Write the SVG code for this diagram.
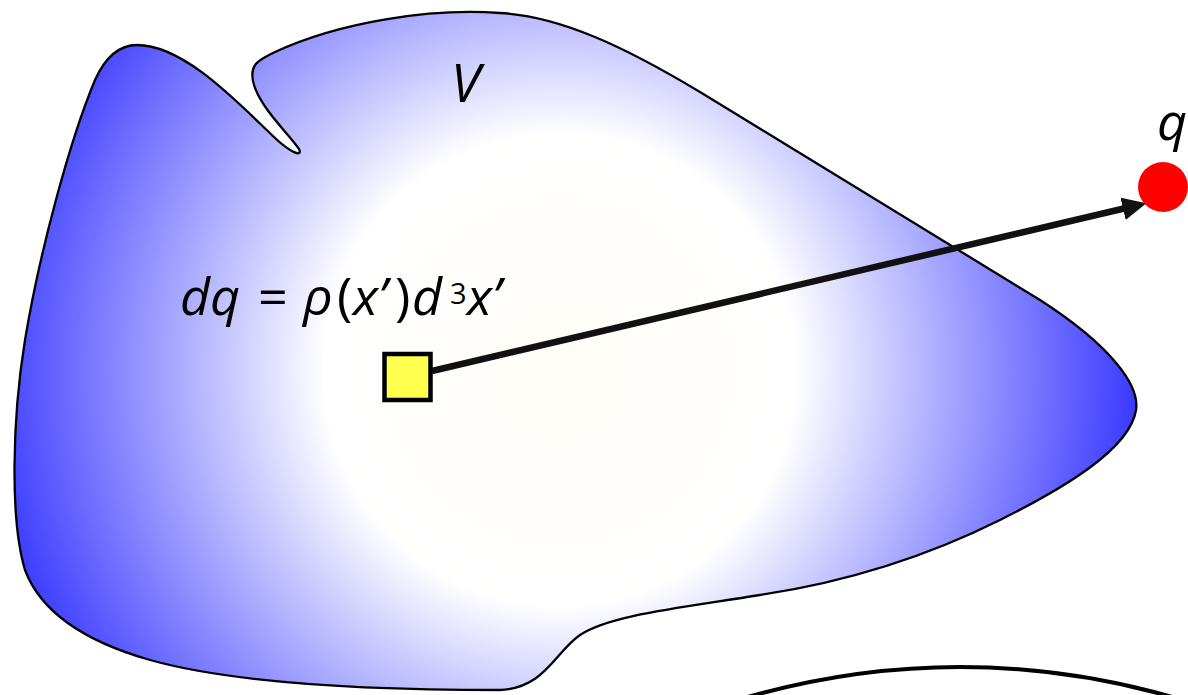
<svg xmlns="http://www.w3.org/2000/svg" width="1188" height="695" viewBox="0 0 1188 695">
<style>
.lbl{font-family:"Open Sans","Liberation Sans",sans-serif;fill:#000}
.it{font-style:italic}
.outline{fill:url(#fillGrad);stroke:#000;stroke-width:2.3}
.conn{stroke:#111;stroke-width:6.5;fill:none}
</style>
<defs>
<radialGradient id="fillGrad" gradientUnits="userSpaceOnUse" cx="560" cy="370" r="590">
<stop offset="0" stop-color="#fffdf6"/>
<stop offset="0.4" stop-color="#ffffff"/>
<stop offset="1" stop-color="#3333ff"/>
</radialGradient>
<marker id="arrow" markerUnits="userSpaceOnUse" markerWidth="28" markerHeight="26" refX="1" refY="11.5" orient="auto">
<path d="M0,0 L24,11.5 L0,23 Z" fill="#111"/>
</marker>
</defs>
<rect width="1188" height="695" fill="#fff"/>
<g id="volume">
<path class="outline" d="M 137,45 C 185,45 240,105 275,138 C 290,152 303,158 299,149 C 290,135 262,110 254,85 C 248,65 258,60 275,52 C 340,22 430,8 500,13 C 560,16 625,47 700,92 L 1040,300 C 1110,345 1140,385 1136,410 C 1130,450 1060,490 1000,520 C 940,550 860,580 760,595 C 680,608 610,615 580,635 C 555,652 545,688 500,690 C 420,690 250,688 150,660 C 80,640 40,610 25,570 C 10,520 12,420 25,340 C 40,250 70,140 95,80 C 105,58 118,45 137,45 Z"/>
<text class="lbl it" x="451" y="102" font-size="53">V</text>
</g>
<g id="boundary-arc">
<path d="M 700,712 Q 960,622 1220,712" fill="none" stroke="#000" stroke-width="4"/>
</g>
<g id="connectors">
<line class="conn" x1="432" y1="371" x2="1124" y2="208.5" marker-end="url(#arrow)"/>
</g>
<g id="element">
<text class="lbl" y="315" font-size="52"><tspan class="it" x="180">dq</tspan><tspan x="258">=</tspan><tspan class="it" x="303">ρ</tspan><tspan x="337">(</tspan><tspan class="it" x="353">x’</tspan><tspan x="395">)</tspan><tspan class="it" x="412">d</tspan><tspan x="450" y="304" font-size="29">3</tspan><tspan class="it" x="467" y="315">x’</tspan></text>
<rect x="384.5" y="354" width="46" height="46" fill="#ffff4d" stroke="#000" stroke-width="4.5"/>
</g>
<g id="charge">
<circle cx="1163" cy="187" r="25" fill="#ff0000"/>
<text class="lbl it" x="1157" y="140" font-size="52">q</text>
</g>
</svg>
